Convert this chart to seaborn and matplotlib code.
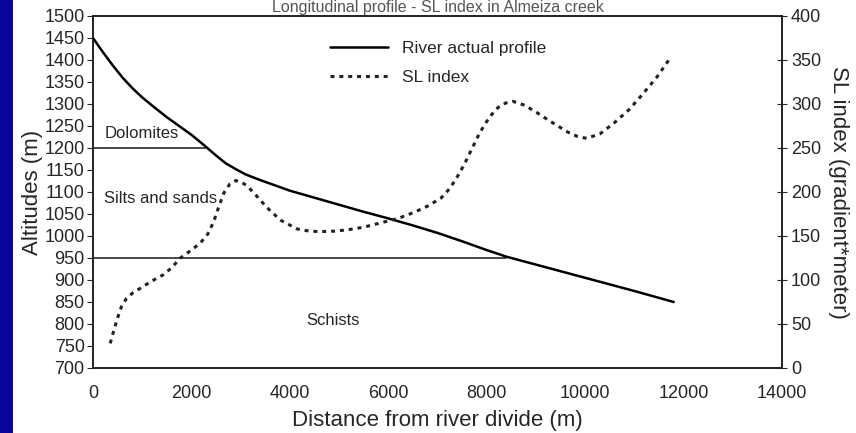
import matplotlib
matplotlib.use("Agg")
import matplotlib.pyplot as plt
import matplotlib.patches as mpatches
import seaborn as sns
import pandas as pd

# ---- data ----
profile_dist = [0, 200, 400, 600, 800, 1000, 1250, 1500, 1750, 2000, 2250, 2500, 2700, 2900,
                3100, 3400, 3700, 4000, 4500, 5000, 5500, 6000, 6500, 7000, 7500, 8000, 8400,
                9000, 10000, 11000, 11800]
profile_alt = [1450, 1418, 1388, 1360, 1336, 1315, 1292, 1270, 1250, 1230, 1207, 1183, 1165, 1152,
               1140, 1127, 1115, 1103, 1087, 1071, 1055, 1040, 1024, 1007, 988, 968, 953,
               935, 905, 875, 850]

sl_dist = [350, 420, 500, 580, 680, 800, 1000, 1200, 1430, 1600, 1775, 2000, 2180, 2330, 2450,
           2560, 2660, 2780, 2900, 3020, 3130, 3300, 3540, 3810, 4150, 4400, 4630, 4900, 5170,
           5500, 5780, 6200, 6530, 6800, 7070, 7250, 7410, 7550, 7680, 7820, 7960, 8100, 8230,
           8380, 8530, 8750, 8970, 9300, 9650, 9850, 10030, 10300, 10600, 10900, 11150, 11450,
           11700]
sl_val = [28, 42, 57, 70, 79, 85, 92, 99, 106, 114, 125, 134, 142, 152, 166,
          184, 199, 209, 213, 211, 207, 197, 182, 168, 158, 155.5, 155, 155.5, 157,
          160, 164, 170, 177, 184, 193, 204, 218, 232, 247, 263, 277, 288, 296,
          301, 303, 299, 292, 280, 268, 263, 261, 266, 279, 294, 310, 330,
          350]

boundary_alt = [1200, 950]
boundary_end = [2300, 8400]
unit_labels = ["Dolomites", "Silts and sands", "Schists"]
unit_pos = [(230, 1234), (230, 1085), (4330, 809)]

x_ticks = list(range(0, 14001, 2000))
y_ticks = list(range(700, 1501, 50))
y2_ticks = list(range(0, 401, 50))

title = "Longitudinal profile - SL index in Almeiza creek"

# ---- style ----
sns.set_style("white")
plt.rcParams["font.family"] = ["Liberation Sans", "DejaVu Sans"]
txt = "#262626"

fig = plt.figure(figsize=(8.56, 4.33), dpi=100)
fig.patch.set_facecolor("white")
fig.patches.append(mpatches.Rectangle((0, 0), 13 / 856, 1, transform=fig.transFigure,
                                      facecolor="#06069a", edgecolor="none", zorder=0))
ax = fig.add_axes([93 / 856, 1 - 368 / 433, (782 - 93) / 856, (368 - 16) / 433])
ax2 = ax.twinx()

df_p = pd.DataFrame({"dist": profile_dist, "alt": profile_alt})
df_s = pd.DataFrame({"dist": sl_dist, "sl": sl_val})

for a, e in zip(boundary_alt, boundary_end):
    ax.plot([0, e], [a, a], color="#3a3a3a", lw=1.3, zorder=1)

sns.lineplot(data=df_p, x="dist", y="alt", ax=ax, color="black", lw=1.8,
             label="River actual profile", legend=False, zorder=3)
sns.lineplot(data=df_s, x="dist", y="sl", ax=ax2, color="#222222", lw=2.2,
             linestyle=(0, (1.3, 1.6)), label="SL index", legend=False, zorder=3)

for lab, (xx, yy) in zip(unit_labels, unit_pos):
    ax.text(xx, yy, lab, fontsize=12, color=txt, va="center", ha="left")

ax.set_xlim(0, 14000)
ax.set_ylim(700, 1500)
ax2.set_ylim(0, 400)
ax.set_xticks(x_ticks)
ax.set_yticks(y_ticks)
ax2.set_yticks(y2_ticks)
ax.tick_params(axis="x", direction="in", length=4, labelsize=13, colors=txt, pad=12)
ax.tick_params(axis="y", direction="out", length=4, labelsize=13, colors=txt, pad=2)
ax2.tick_params(axis="y", direction="inout", length=7, labelsize=13, colors=txt, pad=3)
for s in ax.spines.values():
    s.set_visible(True)
    s.set_color("#222222")
    s.set_linewidth(1.2)
for s in ax2.spines.values():
    s.set_color("#222222")
    s.set_linewidth(1.2)

ax.set_xlabel("Distance from river divide (m)", fontsize=16, color=txt, labelpad=6)
ax.set_ylabel("Altitudes (m)", fontsize=16, color=txt, labelpad=1)
ax2.set_ylabel("SL index (gradient*meter)", fontsize=16, color=txt, rotation=270,
               labelpad=20)

h1, l1 = ax.get_legend_handles_labels()
h2, l2 = ax2.get_legend_handles_labels()
ax.legend(h1 + h2, l1 + l2, loc="upper left", bbox_to_anchor=(0.322, 0.975), frameon=False,
          fontsize=12.5, handlelength=3.3, handletextpad=0.8, labelspacing=0.85,
          labelcolor=txt)

fig.text(438 / 856, 1.0, title, ha="center", va="top", fontsize=11.5, color="#555555")

fig.savefig("out.png", dpi=100)
